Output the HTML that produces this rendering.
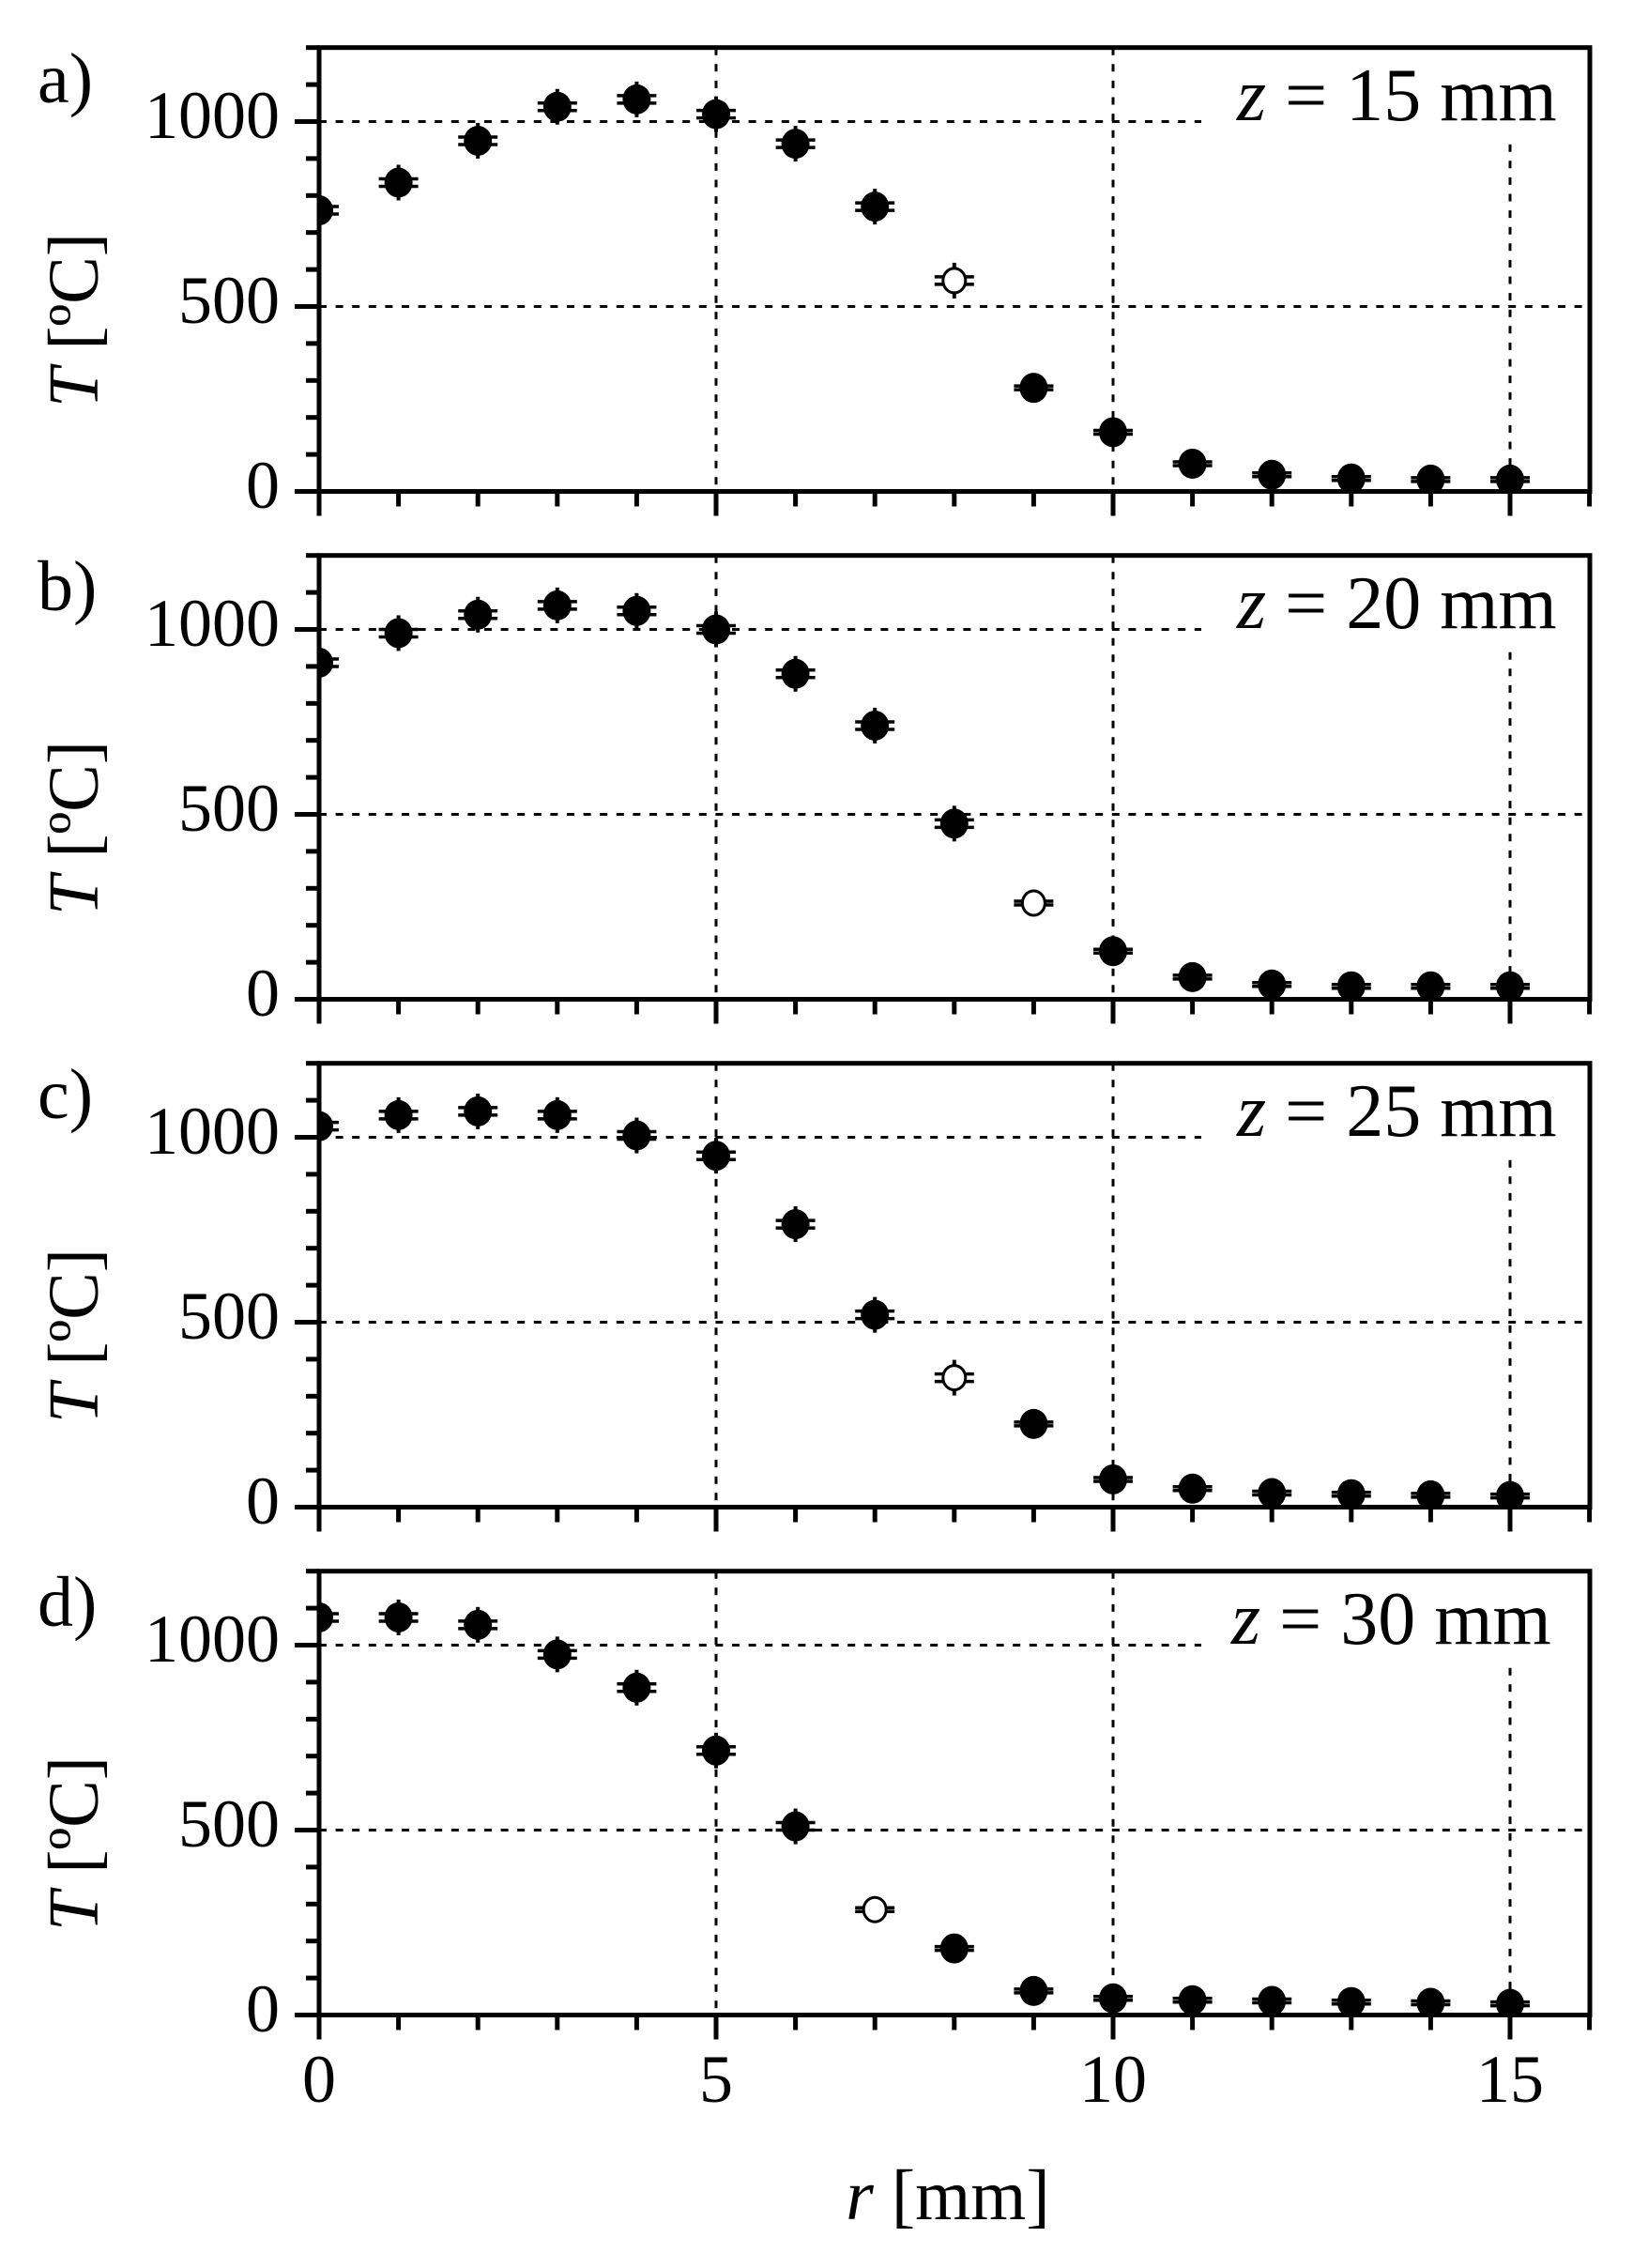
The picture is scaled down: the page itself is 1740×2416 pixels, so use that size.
<!DOCTYPE html>
<html><head><meta charset="utf-8"><style>
html,body{margin:0;padding:0;background:#fff;}
svg{display:block;}
text{font-family:"Liberation Serif","Times New Roman",serif;fill:#000;}
.tk{font-size:72px;}
.ax{font-size:76px;}
.zl{font-size:80px;}
</style></head><body>
<svg id="s" width="1740" height="2416" viewBox="0 0 1740 2416" xmlns="http://www.w3.org/2000/svg">
<defs>
<clipPath id="c0"><rect x="340" y="50" width="1354" height="474"/></clipPath>
<clipPath id="c1"><rect x="340" y="591" width="1354" height="474"/></clipPath>
<clipPath id="c2"><rect x="340" y="1132" width="1354" height="474"/></clipPath>
<clipPath id="c3"><rect x="340" y="1673" width="1354" height="474"/></clipPath>
</defs>
<g id="plots"></g>
<text class="ax" x="40" y="109">a)</text>
<text class="ax" x="40" y="650">b)</text>
<text class="ax" x="40" y="1191">c)</text>
<text class="ax" x="40" y="1732">d)</text>
<g text-anchor="end">
<text class="tk" x="298" y="147">1000</text><text class="tk" x="298" y="344">500</text><text class="tk" x="298" y="541">0</text>
<text class="tk" x="298" y="688">1000</text><text class="tk" x="298" y="885">500</text><text class="tk" x="298" y="1082">0</text>
<text class="tk" x="298" y="1229">1000</text><text class="tk" x="298" y="1426">500</text><text class="tk" x="298" y="1623">0</text>
<text class="tk" x="298" y="1770">1000</text><text class="tk" x="298" y="1967">500</text><text class="tk" x="298" y="2164">0</text>
</g>
<g text-anchor="middle">
<text class="ax" transform="translate(104,341) rotate(-90)"><tspan font-style="italic">T</tspan> [ºC]</text>
<text class="ax" transform="translate(104,882) rotate(-90)"><tspan font-style="italic">T</tspan> [ºC]</text>
<text class="ax" transform="translate(104,1423) rotate(-90)"><tspan font-style="italic">T</tspan> [ºC]</text>
<text class="ax" transform="translate(104,1964) rotate(-90)"><tspan font-style="italic">T</tspan> [ºC]</text>
</g>
<g text-anchor="middle">
<text class="tk" x="340" y="2239">0</text><text class="tk" x="763" y="2239">5</text><text class="tk" x="1186" y="2239">10</text><text class="tk" x="1609" y="2239">15</text>
</g>
<text class="ax" x="1010" y="2364" text-anchor="middle"><tspan font-style="italic">r</tspan> [mm]</text>
<text class="zl" x="1318" y="128"><tspan font-style="italic">z</tspan> = 15 mm</text>
<text class="zl" x="1318" y="669"><tspan font-style="italic">z</tspan> = 20 mm</text>
<text class="zl" x="1318" y="1210"><tspan font-style="italic">z</tspan> = 25 mm</text>
<text class="zl" x="1312" y="1751"><tspan font-style="italic">z</tspan> = 30 mm</text>
</svg>
<script>
var NS="http://www.w3.org/2000/svg";
var root=document.getElementById("plots");
function el(par,t,a){var e=document.createElementNS(NS,t);for(var k in a)e.setAttribute(k,a[k]);par.appendChild(e);return e;}
var X0=340,U=84.6,XR=1694;
var data=[
[[760,835,948,1040,1060,1020,940,770,570,280,160,75,45,35,32,32],8],
[[910,990,1040,1065,1050,1000,880,740,475,260,130,60,40,35,35,35],9],
[[1030,1060,1070,1060,1005,950,765,520,350,225,75,50,38,35,32,30],8],
[[1075,1075,1055,975,885,715,510,285,180,65,45,40,38,35,33,30],7]];
for(var p=0;p<4;p++){
 var Z=523.5+541*p, S=197/500, T=Z-1200*S;
 var yy=function(v){return Z-v*S;};
 var g=root;
 [500,1000].forEach(function(v){
   var xe=(v==1000)?1280:XR;
   el(g,"line",{x1:X0,x2:xe,y1:yy(v),y2:yy(v),stroke:"#000","stroke-width":3,"stroke-dasharray":"8 9.6"});
 });
 [5,10,15].forEach(function(v){
   var ys=(v==15)?T+103:T;
   el(g,"line",{x1:X0+v*U,x2:X0+v*U,y1:ys,y2:Z,stroke:"#000","stroke-width":3,"stroke-dasharray":"8 9.6"});
 });
 var cg=el(g,"g",{"clip-path":"url(#c"+p+")"});
 var vals=data[p][0],open=data[p][1];
 for(var i=0;i<16;i++){
   var cx=X0+i*U, cy=yy(vals[i]), e=vals[i]>300?12:6;
   el(cg,"line",{x1:cx,x2:cx,y1:cy-e-7,y2:cy+e+7,stroke:"#000","stroke-width":4});
   el(cg,"line",{x1:cx-21,x2:cx+21,y1:cy-e/3,y2:cy-e/3,stroke:"#000","stroke-width":3.5});
   el(cg,"line",{x1:cx-21,x2:cx+21,y1:cy+e/3,y2:cy+e/3,stroke:"#000","stroke-width":3.5});
   if(i==open) el(cg,"ellipse",{cx:cx,cy:cy,rx:12,ry:13,fill:"#fff",stroke:"#000","stroke-width":3});
   else el(cg,"ellipse",{cx:cx,cy:cy,rx:15,ry:16,fill:"#000"});
 }
 el(g,"rect",{x:X0,y:T,width:XR-X0,height:Z-T,fill:"none",stroke:"#000","stroke-width":5});
 for(var v=0;v<=1200;v+=100){
   var maj=(v%500==0);
   el(g,"line",{x1:X0,x2:X0-(maj?26:14),y1:yy(v),y2:yy(v),stroke:"#000","stroke-width":5});
 }
 for(var i=0;i<=16;i++){
   var maj=(i%5==0);
   el(g,"line",{x1:X0+i*U,x2:X0+i*U,y1:Z,y2:Z+(maj?26:16),stroke:"#000","stroke-width":5});
 }
}
</script>
</body></html>
